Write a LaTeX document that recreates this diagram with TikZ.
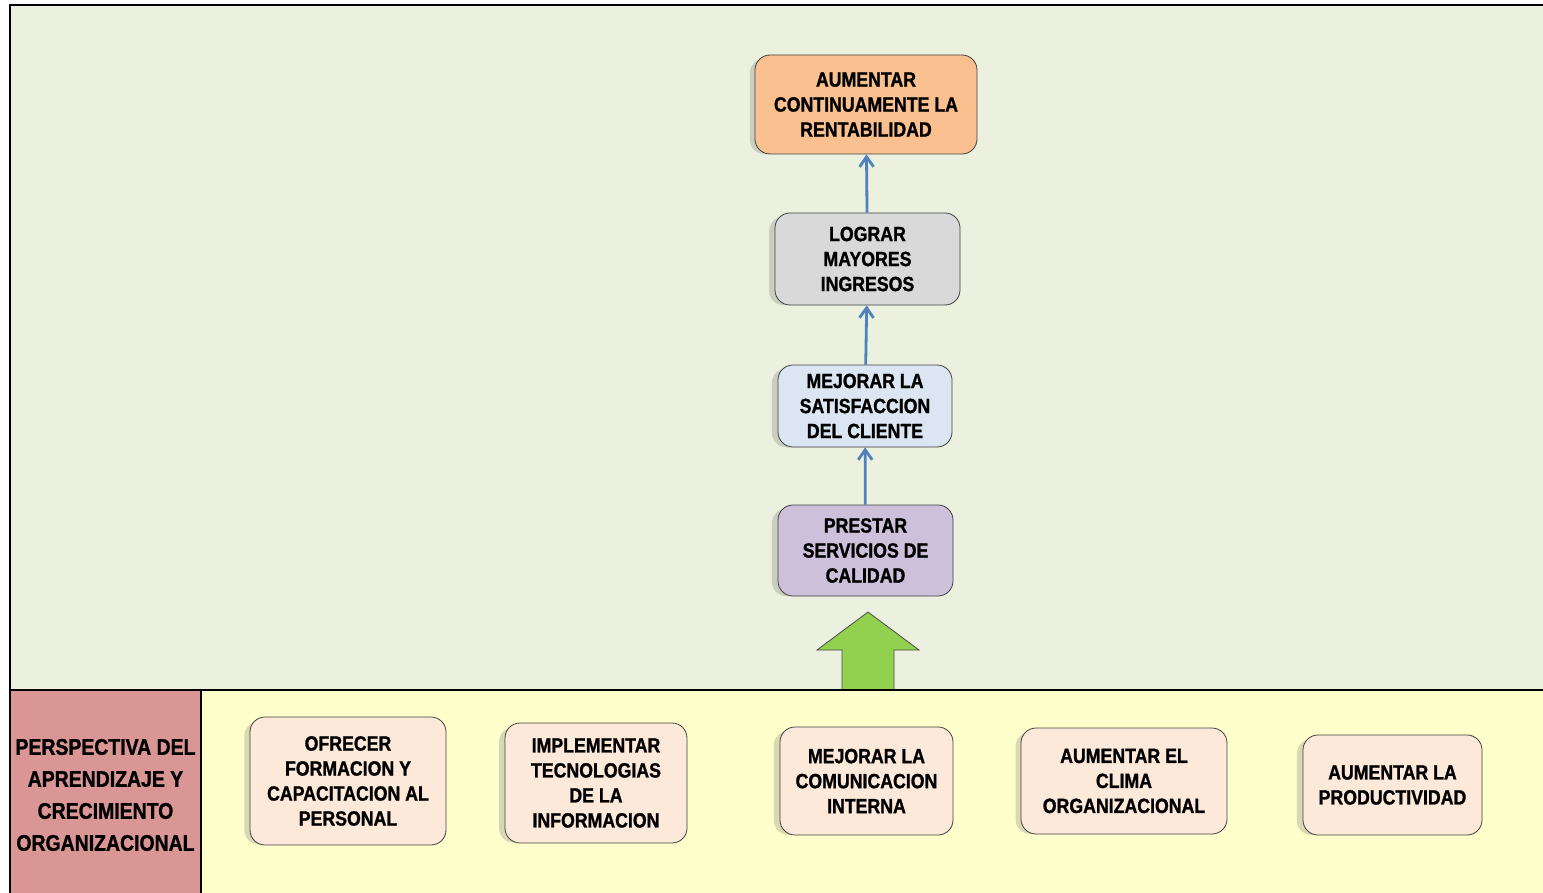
\documentclass[tikz,border=0pt]{standalone}
\usepackage{fontspec}
\setmainfont{Liberation Sans}[FakeStretch=0.86, BoldFeatures={FakeBold=1.2}]
\usetikzlibrary{arrows.meta,shadows}
\definecolor{fondoverde}{HTML}{EBF1DE}
\definecolor{fondoamarillo}{HTML}{FFFFCC}
\definecolor{rojoetiqueta}{HTML}{DA9694}
\definecolor{naranja}{HTML}{FAC090}
\definecolor{gris}{HTML}{D9D9D9}
\definecolor{celeste}{HTML}{DCE6F2}
\definecolor{lila}{HTML}{CCC0DA}
\definecolor{durazno}{HTML}{FDE9D9}
\definecolor{azulflecha}{HTML}{4F81BD}
\definecolor{verdeflecha}{HTML}{92D050}
\begin{document}
\begin{tikzpicture}[x=0.5pt, y=-0.5pt, >={Straight Barb[length=5pt,width=7pt]},
	caja/.style={draw=black!75, rounded corners=7.5pt, align=center, inner sep=2pt,
		font=\bfseries\fontsize{10.3}{12.5}\selectfont,
		drop shadow={shadow xshift=-5pt, shadow yshift=-1pt, shadow scale=0.96, opacity=0.25, fill=black!60}},
	flecha/.style={->, line width=1.4pt, azulflecha}]
	\useasboundingbox (0,0) rectangle (1543,893);
	%%% Fondos
	\fill[fondoverde] (10,5) rectangle (1543,690);
	\fill[fondoamarillo] (201,690) rectangle (1543,893);
	\fill[rojoetiqueta] (10,690) rectangle (201,893);
	%%% Flecha verde
	\draw[black!70, fill=verdeflecha] (842,690) -- (842,650) -- (817,650) -- (868,612) -- (919,650) -- (894,650) -- (894,690);
	%%% Marco
	\draw[line width=1pt] (1543,5) -- (10,5) -- (10,893);
	\draw[line width=1pt] (10,690) -- (1543,690);
	\draw[line width=1pt] (201,690) -- (201,893);
	%%% Objetivos superiores
	\node[caja, fill=naranja, minimum width=111pt, minimum height=49.5pt] (rentabilidad) at (866,104.5) {AUMENTAR\\CONTINUAMENTE LA\\RENTABILIDAD};
	\node[caja, fill=gris, minimum width=92.5pt, minimum height=46pt] (ingresos) at (867.5,259) {LOGRAR\\MAYORES\\INGRESOS};
	\node[caja, fill=celeste, minimum width=87pt, minimum height=41pt] (satisfaccion) at (865,406) {MEJORAR LA\\SATISFACCION\\DEL CLIENTE};
	\node[caja, fill=lila, minimum width=87.5pt, minimum height=45.5pt] (servicios) at (865.5,550.5) {PRESTAR\\SERVICIOS DE\\CALIDAD};
	%%% Flechas
	\draw[flecha] (servicios) -- (satisfaccion);
	\draw[flecha] (satisfaccion) -- (ingresos);
	\draw[flecha] (ingresos) -- (rentabilidad);
	%%% Perspectiva
	\node[align=center, font=\bfseries\fontsize{11.3}{16}\selectfont] (perspectiva) at (105.5,795) {PERSPECTIVA DEL\\APRENDIZAJE Y\\CRECIMIENTO\\ORGANIZACIONAL};
	%%% Objetivos inferiores
	\node[caja, fill=durazno, minimum width=98pt, minimum height=64pt] (formacion) at (348,781) {OFRECER\\FORMACION Y\\CAPACITACION AL\\PERSONAL};
	\node[caja, fill=durazno, minimum width=91pt, minimum height=60pt] (tecnologias) at (596,783) {IMPLEMENTAR\\TECNOLOGIAS\\DE LA\\INFORMACION};
	\node[caja, fill=durazno, minimum width=86.5pt, minimum height=54pt] (comunicacion) at (866.5,781) {MEJORAR LA\\COMUNICACION\\INTERNA};
	\node[caja, fill=durazno, minimum width=103pt, minimum height=53pt] (clima) at (1124,781) {AUMENTAR EL\\CLIMA\\ORGANIZACIONAL};
	\node[caja, fill=durazno, minimum width=89.5pt, minimum height=50pt] (productividad) at (1392.5,785) {AUMENTAR LA\\PRODUCTIVIDAD};
\end{tikzpicture}
\end{document}
